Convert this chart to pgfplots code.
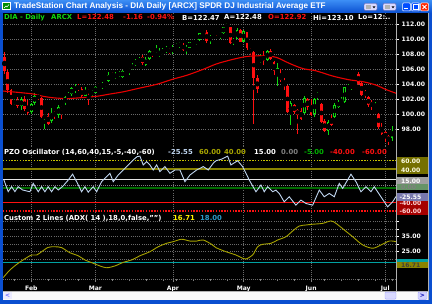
\documentclass[border=0pt]{standalone}
\usepackage{pgfplots}
\pgfplotsset{compat=1.18}
\usepackage{pgfplotstable}
\usepackage{fontspec}
\setmainfont{DejaVu Sans}
\newfontfamily\tfont{Liberation Sans}
\newcommand{\hf}{\fontsize{6.9}{8}\selectfont\bfseries}
\newcommand{\nf}{\fontsize{6.1}{7}\selectfont\bfseries}
\definecolor{xpblue}{HTML}{0A4FD0}
\definecolor{xpblueL}{HTML}{3C8EF5}
\definecolor{cgreen}{HTML}{10D810}
\definecolor{cred}{HTML}{FF1010}
\definecolor{gridc}{HTML}{6A6A6A}
\definecolor{pzoc}{HTML}{C0D6F0}
\definecolor{adxc}{HTML}{A8A400}
\definecolor{mac}{HTML}{E80000}
\definecolor{yel}{HTML}{C8C400}
\definecolor{oliv}{HTML}{8A8400}
\definecolor{tealc}{HTML}{00A0A0}
\definecolor{dgreen}{HTML}{006A00}
\definecolor{sepc}{HTML}{B0B0B0}

\pgfplotstableread{
i o h l c
-5 101.4 102.1 101.2 101.8
-3 101.1 102.3 100.6 102.0
0 100.3 101.5 100.1 101.4
1 101.5 102.8 101.3 102.5
4 99.5 100.0 98.0 99.9
6 99.1 100.9 98.9 100.2
8 99.9 101.2 99.5 101.0
10 101.5 102.4 101.2 102.3
11 102.3 103.0 102.1 102.7
12 102.7 103.6 102.5 103.5
13 103.2 104.0 102.9 103.6
16 102.5 103.6 102.4 103.3
18 102.8 103.3 102.5 102.85
19 102.9 103.8 102.8 103.6
21 103.6 104.3 103.4 104.1
22 103.9 104.3 103.6 104.2
23 104.4 105.6 104.3 105.3
25 104.9 105.6 104.7 105.3
26 105.2 105.8 105.0 105.5
27 105.0 105.9 104.8 105.8
29 105.6 106.2 105.3 106.1
30 106.0 106.8 105.9 106.6
31 106.6 107.4 106.5 107.1
32 107.0 107.6 106.8 107.4
34 106.6 107.6 106.4 107.4
35 107.4 108.6 107.3 108.4
37 107.9 109.2 107.9 108.0
38 107.9 108.8 107.6 108.2
39 108.2 108.8 108.0 108.6
40 108.5 109.1 108.2 108.7
42 108.3 109.3 108.1 108.9
43 108.9 109.5 108.8 109.3
44 109.2 109.6 108.9 109.35
46 108.5 109.3 108.1 108.9
47 108.9 109.7 108.8 109.6
48 109.6 109.9 109.4 109.7
49 109.6 110.0 109.2 109.8
50 109.9 110.9 109.8 110.8
51 110.8 111.2 110.6 111.0
53 109.8 110.6 109.4 110.5
54 110.6 111.0 110.5 110.8
56 110.4 111.0 110.0 110.95
57 110.9 111.7 110.7 111.6
58 111.6 112.2 111.5 111.65
60 109.5 110.2 109.3 110.0
61 110.0 111.5 110.0 111.3
63 109.7 111.2 109.7 111.1
68 107.0 108.0 106.9 107.45
70 107.2 108.6 107.1 108.5
73 105.3 106.8 103.8 106.2
77 100.0 101.8 98.6 101.5
81 100.2 102.4 100.1 102.2
84 100.0 102.2 99.7 102.1
85 102.4 103.0 101.9 102.8
88 97.8 99.3 97.3 99.0
90 99.6 101.5 99.5 101.3
91 101.0 101.9 100.8 101.7
92 101.5 102.3 101.3 101.6
93 101.6 103.7 101.5 103.65
94 103.5 104.0 103.2 103.7
95 103.7 104.1 103.2 103.95
96 103.9 104.3 103.8 104.1
102 101.0 101.6 100.8 101.1
107 96.9 98.5 96.5 97.8
}\upT

\pgfplotstableread{
i o h l c
-8 107.6 108.3 105.4 105.8
-7 105.6 105.9 102.8 103.2
-6 103.2 103.4 101.2 101.4
-4 101.9 102.3 100.9 101.1
-2 102.1 102.4 100.4 100.7
-1 101.0 101.9 99.9 100.2
2 102.5 102.7 101.9 102.2
3 102.2 102.3 99.5 99.6
5 99.8 100.2 98.6 98.7
7 100.2 100.5 99.4 100.0
9 101.0 101.1 99.4 100.6
14 103.8 104.0 103.1 103.4
15 103.4 103.6 102.2 102.4
17 103.3 103.4 101.2 102.8
20 103.9 104.2 103.5 103.65
24 105.4 105.6 105.0 105.1
28 106.0 106.2 105.6 105.85
33 107.7 107.9 106.6 106.9
36 108.4 108.5 107.7 107.9
41 108.7 108.9 108.1 108.2
45 109.3 109.5 108.4 108.6
52 111.0 111.2 109.5 109.8
55 110.95 111.1 110.5 110.85
59 111.6 111.7 109.4 109.5
62 111.3 111.4 109.6 109.7
64 111.0 111.0 108.6 108.9
65 108.7 108.9 107.9 108.3
66 108.3 108.4 98.7 104.8
67 104.8 105.2 102.8 103.4
69 107.8 108.4 106.6 107.1
71 108.5 108.7 107.3 107.4
72 107.0 107.1 105.2 105.8
74 105.1 106.1 104.3 104.6
75 104.5 104.8 103.2 104.0
76 103.8 103.9 100.2 100.3
78 101.3 101.4 100.1 100.3
79 100.6 100.7 97.4 99.9
80 100.4 100.9 99.2 99.35
82 102.1 102.2 100.6 101.0
83 101.2 102.1 99.8 99.9
86 101.4 101.5 98.8 99.0
87 99.1 99.4 97.6 97.8
89 99.4 99.9 98.5 98.6
97 105.4 105.7 103.9 104.1
98 104.2 104.5 102.5 102.6
99 103.1 103.3 102.2 102.5
100 102.3 102.4 101.0 101.2
101 101.6 101.9 100.6 101.1
103 100.1 100.2 98.1 98.3
104 98.3 98.8 97.3 97.4
105 97.6 97.8 96.3 96.9
106 97.1 97.3 95.9 96.45
}\downT

\pgfplotsset{
  panel/.style={scale only axis, width=393bp, xmin=-8.4, xmax=108.17, anchor=south west,
    axis line style={draw=none}, clip=true,
    xtick={0,19,42,63,83,105}, xmajorgrids,
    grid style={draw=gridc, line width=0.6bp, dash pattern=on 0.6bp off 1.6bp},
    /pgf/number format/assume math mode=true,
    tick label style={font=\nf, text=white},
  },
  wick/.style={only marks, mark=none, error bars/.cd, y dir=both, y explicit, error mark=none,
    error bar style={draw=#1, line width=0.9bp, line cap=butt}},
  body/.style 2 args={only marks, mark=none, error bars/.cd, y dir=both, y explicit, error mark=none,
    error bar style={draw=#1, line width=#2, line cap=butt}},
}

\begin{document}
\begin{tikzpicture}
\begin{scope}[shift={(0bp,304bp)}, x=1bp, y=-1bp]
\fill[xpblue] (0,0) rectangle (432,304);
\shade[top color=xpblueL, bottom color=xpblue] (0,0) rectangle (432,13);
\fill[black] (3,13) rectangle (428,291);
\end{scope}

% ---------- price panel (y 13..146 px) ----------
\begin{axis}[panel, at={(3bp,158bp)}, height=133bp, ymin=95.77, ymax=113.51,
  xticklabels={}, xtick style={draw=none},
  ytick={98,100,...,112}, ymajorgrids, ytick pos=right, yticklabel pos=right,
  tick align=outside, major tick length=3bp, ytick style={draw=white, line width=0.6bp},
  yticklabel style={/pgf/number format/fixed, /pgf/number format/fixed zerofill, /pgf/number format/precision=2, xshift=-0.8bp}]
\addplot[wick=cred] table[x=i, y expr={(\thisrow{h}+\thisrow{l})/2}, y error expr={(\thisrow{h}-\thisrow{l})/2}] {\downT};
\addplot[body={cred}{2.7bp}] table[x=i, y expr={(\thisrow{o}+\thisrow{c})/2}, y error expr={max(abs(\thisrow{c}-\thisrow{o})/2,0.08)}] {\downT};
\addplot[wick=cgreen] table[x=i, y expr={(\thisrow{h}+\thisrow{l})/2}, y error expr={(\thisrow{h}-\thisrow{l})/2}] {\upT};
\addplot[body={cgreen}{2.8bp}] table[x=i, y expr={(\thisrow{o}+\thisrow{c})/2}, y error expr={max(abs(\thisrow{c}-\thisrow{o})/2,0.08)}] {\upT};
\addplot[body={black}{0.9bp}] table[x=i, y expr={(\thisrow{o}+\thisrow{c})/2}, y error expr={max(abs(\thisrow{c}-\thisrow{o})/2-0.15,0)}] {\upT};
\addplot[mac, line width=1.1bp, smooth] coordinates {
(-8.4,103.1) (-3.4,102.9) (0.6,102.7) (3.5,102.4) (6.5,102.2) (10.5,102.1) (14.4,102.2)
(19.4,102.4) (23.3,102.7) (27.3,103.0) (32.2,103.5) (37.2,104.0) (42.1,104.7) (46.1,105.2)
(51.0,106.0) (54.8,106.7) (58.7,107.2) (63.7,107.7) (68.6,107.8) (72.6,107.6) (76.5,106.8)
(80.5,106.1) (84.4,105.8) (89.4,105.1) (94.3,104.6) (98.3,104.35) (102.2,103.9) (105.2,103.3) (108.2,102.8)};
\end{axis}

% ---------- PZO panel (y 146..213 px) ----------
\begin{axis}[panel, at={(3bp,91bp)}, height=67bp, ymin=-64.7, ymax=95.2,
  xticklabels={}, xtick style={draw=none}, ytick=\empty]
\addplot[yel, line width=1.4bp, dash pattern=on 1.4bp off 1.4bp] coordinates {(-8.4,60) (108.17,60)};
\addplot[oliv, line width=1.3bp] coordinates {(-8.4,40) (108.17,40)};
\addplot[white!80!gray, line width=1.2bp] coordinates {(-8.4,15) (108.17,15)};
\addplot[gray, line width=0.8bp, dash pattern=on 0.8bp off 1.2bp] coordinates {(-8.4,0) (108.17,0)};
\addplot[dgreen, line width=1.2bp] coordinates {(-8.4,-5) (108.17,-5)};
\addplot[cred, line width=0.9bp] coordinates {(-8.4,-40) (108.17,-40)};
\addplot[cred, line width=1.4bp, dash pattern=on 1.4bp off 1.4bp] coordinates {(-8.4,-60) (108.17,-60)};
\addplot[pzoc, line width=0.9bp] coordinates {
(-8.13,14) (-6.85,-13.8) (-5.84,-1.9) (-4.87,-13.8) (-3.89,-2) (-2.58,-9.8) (-0.42,-14) (0.56,6)
(2.05,-14) (3.06,-2) (4.03,-14) (5.01,-2) (6.02,-14) (7.0,-2) (7.98,-10) (9.46,0) (10.95,14)
(12.25,28) (13.44,10) (14.92,-14) (15.9,-2) (16.88,-15) (18.36,-2) (19.37,-14) (20.85,10)
(22.34,22) (23.32,30) (24.3,10) (25.78,26) (27.26,38) (28.75,50) (30.23,62) (31.42,70)
(32.22,71) (33.19,50) (34.2,58) (35.18,50) (36.16,38) (37.17,50) (38.15,34) (39.63,46)
(41.12,30) (42.6,38) (44.08,38) (45.57,10) (47.05,26) (49.04,38) (51.0,46) (52.48,38)
(53.96,54) (54.76,60) (56.5,64) (58.23,71) (59.21,50) (61.2,60) (62.68,46) (64.64,14) (66.63,-14)
(68.11,2) (69.09,-14) (70.1,-2) (71.58,-14) (72.56,-10) (73.54,-18) (75.02,-38) (76.51,-26)
(78.49,-46) (79.98,-34) (81.46,-42) (83.45,-46) (85.41,-10) (86.89,-26) (88.37,-18) (89.86,-26)
(91.34,6) (92.35,-6) (94.81,28) (96.3,10) (97.78,-14) (99.26,-2) (100.74,-14) (101.72,-2)
(103.71,-26) (105.7,-50) (107.18,-38) (108.16,-25.55)};
\end{axis}

% ---------- ADX panel (y 213..279 px) ----------
\begin{axis}[panel, at={(3bp,25bp)}, height=66bp, ymin=6.8, ymax=50.8,
  xticklabels={Feb,Mar,Apr,May,Jun,Jul}, xtick pos=bottom,
  minor xtick={-5,5,10,14,24,29,34,39,43,48,53,58,68,73,78,87,92,97,102,107},
  tick align=outside, major tick length=3bp, minor tick length=2bp,
  xtick style={draw=gray, line width=0.6bp},
  xticklabel style={yshift=-0.5bp},
  ytick={20,25,...,45}, yticklabels={,25.00,,35.00,,}, ymajorgrids, ytick pos=right, yticklabel pos=right,
  yticklabel style={xshift=-0.8bp},
  ytick style={draw=white, line width=0.6bp}]
\addplot[tealc, line width=1.3bp] coordinates {(-8.4,18) (108.17,18)};
\addplot[adxc, line width=0.9bp, smooth] coordinates {
(-8.34,7.7) (-6.35,12.8) (-3.89,17.3) (-1.39,21) (0.09,22.8) (1.57,22.8) (3.06,25) (5.01,27.9)
(7.0,28.3) (8.99,27.7) (11.45,24.3) (13.91,22.3) (15.9,19.5) (18.36,17.3) (20.35,15.5) (22.34,14.3)
(24.8,15.5) (27.26,17.9) (29.75,19.5) (32.22,22.3) (35.18,25) (37.64,28.3) (40.14,30.6) (42.09,31.7)
(44.59,33.3) (47.05,32.1) (49.04,32.1) (51.0,32.8) (53.49,29.9) (54.76,27.7) (57.73,25) (60.69,22.8)
(62.68,20.6) (63.66,20.1) (65.65,22.8) (67.13,28.3) (68.61,29.9) (71.08,30.6) (73.07,32.8) (75.53,35)
(77.51,38.8) (79.47,42.1) (81.46,42.8) (83.45,43.3) (86.41,43.9) (88.88,45.5) (90.36,43.9) (92.82,39.5)
(95.31,35) (98.28,29.5) (101.25,27.3) (103.71,29.5) (106.17,32.1) (108.16,31.7)};
\end{axis}

\begin{scope}[shift={(0bp,304bp)}, x=1bp, y=-1bp]
\draw[gridc, line width=0.6bp, dash pattern=on 0.6bp off 1.4bp] (3,279) -- (396,279);
\draw[sepc, line width=0.8bp] (396.5,13) -- (396.5,291);
\draw[sepc, line width=0.8bp] (428.2,13) -- (428.2,300);

\begin{scope}[every node/.style={inner sep=0pt, anchor=west, font=\hf}]
\node[text=cgreen] at (4,17.5) {DIA - Daily};
\node[text=cgreen] at (51,17.5) {ARCX};
\node[text=cred] at (77,17.5) {L=122.48};
\node[text=cred] at (123,17.5) {-1.16};
\node[text=cred] at (147,17.5) {-0.94\%};
\node[text=white] at (182,17.5) {B=122.47};
\node[text=white] at (224,17.5) {A=122.48};
\node[text=cred] at (268,17.5) {O=122.92};
\node[text=white] at (313,17.5) {Hi=123.10};
\node[text=white] at (358,17.5) {Lo=12:..};

\node[text=white] at (4,152.5) {PZO Oscillator (14,60,40,15,-5,-40,-60)};
\node[text=pzoc] at (168,152.5) {-25.55};
\node[text=yel!85!black] at (199,152.5) {60.00};
\node[text=yel!85!black] at (224,152.5) {40.00};
\node[text=white] at (254,152.5) {15.00};
\node[text=gray] at (281,152.5) {0.00};
\node[text=green!70!black] at (304,152.5) {-5.00};
\node[text=cred] at (330,152.5) {-40.00};
\node[text=cred] at (362,152.5) {-60.00};

\node[text=white] at (4,218.5) {Custom 2 Lines (ADX( 14 ),18,0,false,"")};
\node[text=yellow] at (173,218.5) {16.71};
\node[text=cyan!80!black] at (200,218.5) {18.00};
\end{scope}

\begin{scope}[every node/.style={inner sep=0pt, anchor=west, font=\nf}]
\fill[oliv!85!black] (397,157.5) rectangle (428,174.5);
\node[text=white!90!yellow] at (401,161.5) {60.00};
\node[text=white!90!yellow] at (401,170) {40.00};
\fill[gray!75] (397,177.5) rectangle (428,184.5);
\node[text=white] at (401,181) {15.00};
\fill[black!70!green!60] (397,184.5) rectangle (428,190.5);
\node[text=gray] at (401,187.5) {0.00};
\fill[red!65!black] (397,201) rectangle (428,215);
\node[text=white!85!red] at (399.5,203) {-40.00};
\node[text=white!85!red] at (399.5,211) {-60.00};
\fill[blue!25!gray!85] (397,193.5) rectangle (428,201.5);
\node[text=white] at (399.5,197.5) {-25.55};
\fill[tealc] (397,259.5) rectangle (428,262);
\fill[oliv] (397,262) rectangle (428,268.5);
\node[text=black!85!yellow] at (401,265.3) {16.71};
\end{scope}

\fill[white!96!gray] (3,291) rectangle (428,300);
\draw[gray!60, line width=0.4bp] (3,291.2) -- (428,291.2);
\fill[blue!8] (3.5,291.8) rectangle (12,299.5);
\node[inner sep=0pt, font=\fontsize{6}{6}\selectfont\bfseries, text=blue!60] at (7.7,295.6) {<};
\draw[blue!35, fill=blue!15, rounded corners=1bp, line width=0.4bp] (385,292.2) rectangle (396,299.2);
\draw[blue!35, fill=blue!18, rounded corners=1bp, line width=0.4bp] (418,292) rectangle (427,299.4);
\node[inner sep=0pt, font=\fontsize{6}{6}\selectfont\bfseries, text=blue!70!black] at (422.5,295.6) {>};

\fill[white] (2.5,2.5) rectangle (10.5,10.5);
\fill[green!55!black] (3.5,3.5) rectangle (9.5,9.5);
\draw[white, line width=0.5bp] (4,8) -- (6,6) -- (7,7) -- (9,4.5);
\node[inner sep=0pt, anchor=west, text=white, font=\tfont\fontsize{8.2}{9}\selectfont\bfseries] at (14,6.8)
  {TradeStation Chart Analysis - DIA Daily [ARCX] SPDR DJ Industrial Average ETF};
\draw[gray!70!blue, fill=white!85!blue, rounded corners=1bp, line width=0.4bp] (364,3.5) rectangle (377,10.5);
\fill[gray!60] (366,5) rectangle (371,9);
\fill[black] (372.5,6.3) -- (375.5,6.3) -- (374,8.3) -- cycle;
\draw[gray!70!blue, fill=white!85!blue, rounded corners=1bp, line width=0.4bp] (383,3.5) rectangle (396,10.5);
\fill[gray!60] (385,5) rectangle (390,9);
\fill[black] (391.5,6.3) -- (394.5,6.3) -- (393,8.3) -- cycle;
\draw[white, fill=blue!70!cyan, rounded corners=1bp, line width=0.5bp] (402.5,3) rectangle (410.5,11);
\fill[white] (404.3,8.3) rectangle (407.5,9.4);
\draw[white, fill=blue!70!cyan, rounded corners=1bp, line width=0.5bp] (411.5,3) rectangle (419.5,11);
\draw[white, line width=0.6bp] (413.2,4.8) rectangle (417.8,9.3);
\draw[white, fill=red!70!orange, rounded corners=1bp, line width=0.5bp] (420.5,3) rectangle (428.5,11);
\draw[white, line width=0.9bp] (422.5,5) -- (426.5,9) (422.5,9) -- (426.5,5);
\end{scope}
\pgfresetboundingbox
\path[use as bounding box] (0bp,0bp) rectangle (432bp,304bp);
\end{tikzpicture}
\end{document}
